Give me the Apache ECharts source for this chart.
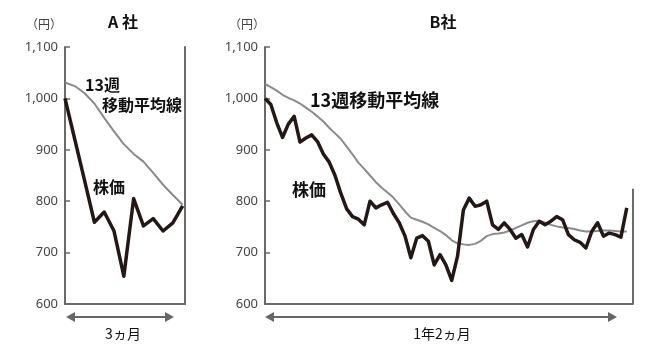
<!DOCTYPE html>
<html><head><meta charset="utf-8">
<script src="https://cdn.jsdelivr.net/npm/echarts@6/dist/echarts.min.js"></script>
<style>html,body{margin:0;padding:0;background:#fff}#c{width:670px;height:352px}</style>
</head><body><div id="c"></div>
<script>
// Data (weekly closes, yen)
const yTickLabels = ['600', '700', '800', '900', '1,000', '1,100'];
const aPrice = [1000, 920, 840, 759, 779, 742, 654, 805, 752, 766, 742, 758, 791];
const aMA = [1031, 1024, 1010, 990, 962, 936, 911, 892, 877, 855, 832, 812, 793];
const bPrice = [1000, 988, 953, 924, 950, 965, 915, 923, 929, 916, 892, 876, 850, 815, 785, 770, 765, 754, 800, 787,
  793, 798, 776, 758, 732, 690, 728, 733, 722, 676, 696, 676, 646, 693, 783, 806, 790, 793, 800, 754,
  745, 758, 745, 728, 735, 711, 745, 761, 754, 761, 770, 764, 735, 725, 720, 709, 741, 758, 732, 738,
  735, 730, 787];
const bMA = [1028, 1022, 1015, 1007, 1001, 996, 990, 982, 974, 965, 955, 943, 932, 921, 906, 891, 875, 863, 850, 837,
  826, 817, 807, 794, 780, 768, 764, 760, 755, 748, 742, 734, 724, 718, 716, 715, 717, 723, 732, 736,
  737, 739, 743, 748, 753, 758, 761, 762, 758, 754, 751, 749, 748, 746, 743, 741, 741, 742, 743, 743,
  742, 741, 741];
const periodA = '3ヵ月';
const periodB = '1年2ヵ月';

const chart = echarts.init(document.getElementById('c'), null, {renderer: 'canvas'});
const axisColor = '#6a6a6a';
const cjk = "'Noto Sans CJK JP', 'Noto Sans', sans-serif";
const tickFmt = v => yTickLabels[Math.round((v - 600) / 100)] || '';

function yAx(gi) {
  return {
    gridIndex: gi, type: 'value', min: 600, max: 1100, interval: 100,
    axisLine: {show: true, lineStyle: {color: axisColor, width: 2}},
    axisTick: {show: true, inside: true, length: 5, lineStyle: {color: axisColor, width: 1.5}},
    axisLabel: {color: '#444', fontSize: 13, margin: 7, fontFamily: 'Noto Sans', formatter: tickFmt},
    splitLine: {show: false}
  };
}
function xAx(gi, max) {
  return {
    gridIndex: gi, type: 'value', min: 0, max: max,
    axisLine: {show: true, onZero: false, lineStyle: {color: axisColor, width: 2}},
    axisTick: {show: false}, axisLabel: {show: false}, splitLine: {show: false}
  };
}
const priceStyle = {color: '#231815', width: 3.5, join: 'round'};
const maStyle = {color: '#8a8a8a', width: 2};
const toPts = arr => arr.map((v, i) => [i, v]);
const xMaxA = 12.24, xMaxB = 63.07;

function arrow(x1, x2, y) {
  const c = '#666', h = 5, l = 9;
  return [
    {type: 'line', shape: {x1: x1 + 4, y1: y, x2: x2 - 4, y2: y}, style: {stroke: c, lineWidth: 2}},
    {type: 'polygon', shape: {points: [[x1, y], [x1 + l, y - h], [x1 + l, y + h]]}, style: {fill: c}},
    {type: 'polygon', shape: {points: [[x2, y], [x2 - l, y - h], [x2 - l, y + h]]}, style: {fill: c}}
  ];
}
function txt(x, y, s, size, weight, color, align) {
  return {type: 'text', x: x, y: y, style: {text: s, fontSize: size, fontWeight: weight || 'normal',
    fill: color || '#111', fontFamily: cjk, align: align || 'center', verticalAlign: 'middle'}};
}

chart.setOption({
  animation: false,
  grid: [
    {left: 65, top: 47, width: 120, height: 257},
    {left: 265, top: 47, width: 368, height: 257}
  ],
  xAxis: [xAx(0, xMaxA), xAx(1, xMaxB)],
  yAxis: [yAx(0), yAx(1),
    {gridIndex: 0, type: 'value', min: 600, max: 1100, position: 'right',
     axisLine: {show: true, lineStyle: {color: axisColor, width: 2}},
     axisTick: {show: false}, axisLabel: {show: false}, splitLine: {show: false}}],
  series: [
    {type: 'line', xAxisIndex: 0, yAxisIndex: 0, data: toPts(aMA), symbol: 'none', lineStyle: maStyle, z: 2},
    {type: 'line', xAxisIndex: 0, yAxisIndex: 0, data: toPts(aPrice), symbol: 'none', lineStyle: priceStyle, z: 3},
    {type: 'line', xAxisIndex: 1, yAxisIndex: 1, data: toPts(bMA), symbol: 'none', lineStyle: maStyle, z: 2},
    {type: 'line', xAxisIndex: 1, yAxisIndex: 1, data: toPts(bPrice), symbol: 'none', lineStyle: priceStyle, z: 3,
     markLine: {silent: true, symbol: 'none', label: {show: false},
       lineStyle: {color: axisColor, width: 2, type: 'solid'},
       data: [[{coord: [xMaxB - 0.1, 600]}, {coord: [xMaxB - 0.1, 824]}]]}}
  ],
  graphic: [].concat(
    arrow(66, 174, 317), arrow(265, 617, 317),
    [
      txt(123, 22, 'A 社', 16, 'bold'),
      txt(443, 22, 'B社', 16, 'bold'),
      txt(44, 24, '（円）', 12, 'normal', '#444'),
      txt(247, 24, '（円）', 12, 'normal', '#444'),
      txt(123, 334, periodA, 14, 'normal'),
      txt(442, 334, periodB, 14, 'normal'),
      txt(85, 85, '13週', 16, 'bold', '#111', 'left'),
      txt(102, 105, '移動平均線', 16, 'bold', '#111', 'left'),
      txt(93, 187, '株価', 16, 'bold', '#111', 'left'),
      txt(310, 100, '13週移動平均線', 18, 'bold', '#111', 'left'),
      txt(292, 190, '株価', 17, 'bold', '#111', 'left')
    ])
});
</script></body></html>
